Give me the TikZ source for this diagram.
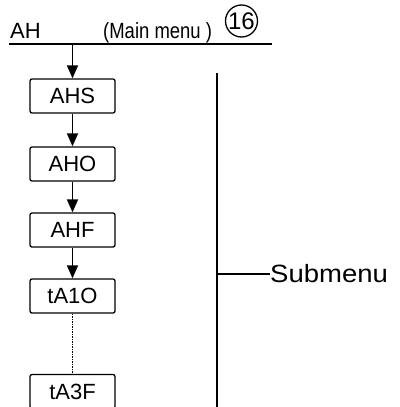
\documentclass[tikz,border=0pt]{standalone}
\usepackage{fontspec}
\setmainfont{Liberation Sans}
\newfontfamily\narrowfont{Liberation Sans}[FakeStretch=0.84]
\newfontfamily\widefont{Liberation Sans}[FakeStretch=1.1]
\usetikzlibrary{arrows.meta}
\tikzset{
  menubox/.style={draw, line width=1.3pt, rounded corners=2pt, minimum width=85pt,
    minimum height=34pt, inner sep=0pt, font=\fontsize{22}{22}\selectfont},
  flow/.style={line width=1.8pt, -{Triangle[length=13pt,width=11pt]}},
}
\begin{document}
\begin{tikzpicture}[x=1pt,y=-1pt]
\useasboundingbox (0,0) rectangle (399,407);
% header
\node[anchor=base west, inner sep=0pt, font=\fontsize{22}{22}\selectfont] (ah) at (10,38) {AH};
\node[anchor=base west, inner sep=0pt, font=\narrowfont\fontsize{22}{22}\selectfont] (main) at (103,38) {(Main menu )};
\node[draw, circle, line width=1.3pt, minimum size=32pt, inner sep=0pt, font=\fontsize{24}{24}\selectfont] (num) at (241.5,21) {16};
\coordinate (hl) at (9,44);
\coordinate (hr) at (272,44);
\coordinate (top) at (72.5,44);
\draw[line width=2.5pt] (hl) -- (hr);
% submenu boxes
\node[menubox] (ahs) at (72.5,96) {AHS};
\node[menubox] (aho) at (72.5,164) {AHO};
\node[menubox] (ahf) at (72.5,230) {AHF};
\node[menubox] (ta1o) at (72.5,296) {tA1O};
\node[menubox] (ta3f) at (72.5,391.5) {tA3F};
\draw[flow] (top) -- (ahs);
\draw[flow] (ahs) -- (aho);
\draw[flow] (aho) -- (ahf);
\draw[flow] (ahf) -- (ta1o);
\draw[line width=1.5pt, densely dotted] (ta1o) -- (ta3f);
% bracket
\coordinate (st) at (217,73);
\coordinate (sb) at (217,412);
\coordinate (sm) at (217,274);
\draw[line width=2pt] (st) -- (sb);
\node[anchor=west, inner sep=0pt, font=\widefont\fontsize{25}{25}\selectfont] (sub) at (270,274) {Submenu};
\draw[line width=2pt] (sm) -- (sub.west);
\end{tikzpicture}
\end{document}
